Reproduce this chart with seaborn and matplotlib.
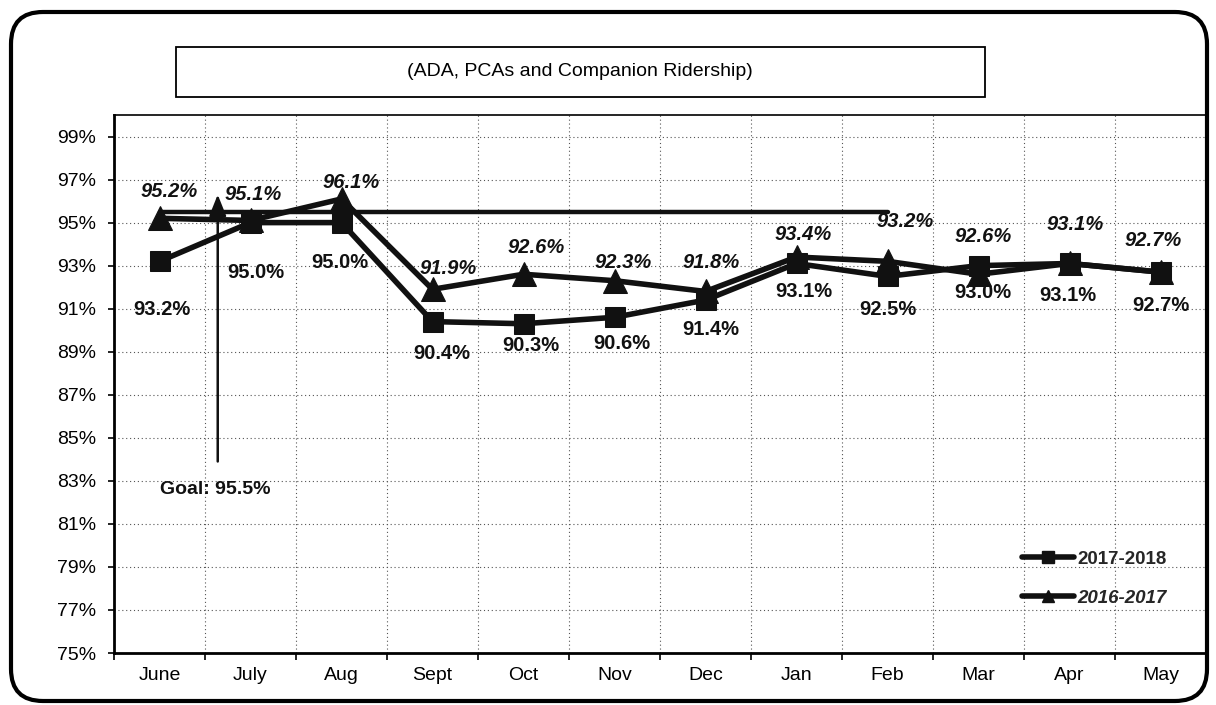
import numpy as np
import pandas as pd
import matplotlib
matplotlib.use("Agg")
import matplotlib.pyplot as plt
import seaborn as sns
from matplotlib.patches import FancyBboxPatch, Rectangle
from matplotlib.lines import Line2D
from matplotlib.transforms import IdentityTransform

# Data
months = ['June', 'July', 'Aug', 'Sept', 'Oct', 'Nov', 'Dec', 'Jan', 'Feb', 'Mar', 'Apr', 'May']
rate_2017_2018 = [93.2, 95.0, 95.0, 90.4, 90.3, 90.6, 91.4, 93.1, 92.5, 93.0, 93.1, 92.7]
rate_2016_2017 = [95.2, 95.1, 96.1, 91.9, 92.6, 92.3, 91.8, 93.4, 93.2, 92.6, 93.1, 92.7]
goal_value = 95.5
goal_months = months[:9]
y_ticks = list(range(75, 100, 2))
title = '(ADA, PCAs and Companion Ridership)'

# label nudges (points), as placed by hand in the original
sq_dx = [2, 4, -1, 7, 5, 5, 4, 5, 0, 3, -1, 0]
sq_dy = [-35, -36, -29, -23, -16, -19, -21, -20, -24, -19, -23, -24]
tri_dx = [7, 2, 7, 11, 9, 6, 4, 5, 13, 3, 4, -5]
tri_dy = [19, 19, 12, 15, 19, 13, 21, 16, 29, 27, 28, 23]

sns.set_theme(style='white')
plt.rcParams['font.family'] = ['Liberation Sans', 'DejaVu Sans']

DARK = '#111111'
W, H = 1216, 705

fig = plt.figure(figsize=(W / 100, H / 100), dpi=100)
fig.patch.set_facecolor('white')
ax = fig.add_axes([114 / W, 1 - 653 / H, (1206 - 114) / W, (653 - 115) / H])

x = np.arange(len(months))
df = pd.DataFrame({'x': x, 'y1718': rate_2017_2018, 'y1617': rate_2016_2017})
goal_df = pd.DataFrame({'x': x[:len(goal_months)], 'goal': [goal_value] * len(goal_months)})

# series
sns.lineplot(data=df, x='x', y='y1617', ax=ax, color=DARK, lw=4, marker='^',
             markersize=17, markeredgecolor=DARK, zorder=4)
sns.lineplot(data=df, x='x', y='y1718', ax=ax, color=DARK, lw=4, marker='s',
             markersize=15, markeredgecolor=DARK, zorder=5)
sns.lineplot(data=goal_df, x='x', y='goal', ax=ax, color=DARK, lw=3.2, zorder=3)

# data labels
for i, v in enumerate(rate_2017_2018):
    ax.annotate(f'{v:.1f}%', (x[i], v), xytext=(sq_dx[i], sq_dy[i]), textcoords='offset points',
                ha='center', va='center', fontsize=14.5, fontweight='bold', color=DARK, zorder=6)
for i, v in enumerate(rate_2016_2017):
    ax.annotate(f'{v:.1f}%', (x[i], v), xytext=(tri_dx[i], tri_dy[i]), textcoords='offset points',
                ha='center', va='center', fontsize=14.5, fontweight='bold', style='italic',
                color=DARK, zorder=6)

# goal arrow and label
ax.annotate('', xy=(0.64, 96.3), xytext=(0.64, 83.9),
            arrowprops=dict(arrowstyle='-|>,head_length=1.0,head_width=0.4',
                            mutation_scale=13, color=DARK, lw=1.8,
                            shrinkA=0, shrinkB=0), zorder=6)
ax.text(0, 82.6, f'Goal: {goal_value:.1f}%', ha='left', va='center',
        fontsize=14, fontweight='bold', color=DARK, zorder=6)

# axes
ax.set_xlim(-0.5, len(months) - 0.5)
ax.set_ylim(75, 100)
ax.set_yticks(y_ticks)
ax.set_yticklabels([f'{t}%' for t in y_ticks])
ax.set_xticks(x)
ax.set_xticklabels(months)
ax.set_xticks(np.arange(-0.5, len(months), 1), minor=True)
ax.set_xlabel('')
ax.set_ylabel('')
ax.grid(False)
ax.grid(which='minor', axis='x', ls=(0, (1, 2.5)), color='#555555', lw=0.8)
ax.grid(which='major', axis='y', ls=(0, (1, 2.5)), color='#555555', lw=0.8)
ax.tick_params(axis='x', which='major', length=0, pad=10, labelsize=14, colors='black')
ax.tick_params(axis='x', which='minor', length=5, width=1.2, color='black',
               direction='out', bottom=True)
ax.tick_params(axis='y', length=4, width=1.2, color='black', direction='out',
               left=True, labelsize=14, pad=9, labelcolor='black')
for side in ['left', 'bottom']:
    ax.spines[side].set_color('black')
    ax.spines[side].set_linewidth(2)
for side in ['top', 'right']:
    ax.spines[side].set_color('black')
    ax.spines[side].set_linewidth(1.2)

# legend
handles = [Line2D([], [], color=DARK, lw=4, marker='s', markersize=8),
           Line2D([], [], color=DARK, lw=4, marker='^', markersize=9)]
leg = ax.legend(handles, ['2017-2018', '2016-2017'], loc='center left',
                bbox_to_anchor=(0.8225, 0.138), frameon=False, fontsize=13.5,
                handlelength=2.8, handletextpad=0.2, labelspacing=1.15, borderpad=0)
for t in leg.get_texts():
    t.set_fontweight('bold')
leg.get_texts()[1].set_style('italic')

# title box
fig.add_artist(Rectangle((176, H - 97), 985 - 176, 50, transform=IdentityTransform(),
                         fill=False, ec='black', lw=1.3))
fig.text(580 / W, 1 - 72 / H, title, ha='center', va='center', fontsize=14, color='black')

# outer rounded frame
fig.add_artist(FancyBboxPatch((11, 4), 1196, 689, boxstyle='round,pad=0,rounding_size=32',
                              transform=IdentityTransform(), fill=False, ec='black', lw=3))

fig.savefig('out.png', dpi=100, facecolor='white')
